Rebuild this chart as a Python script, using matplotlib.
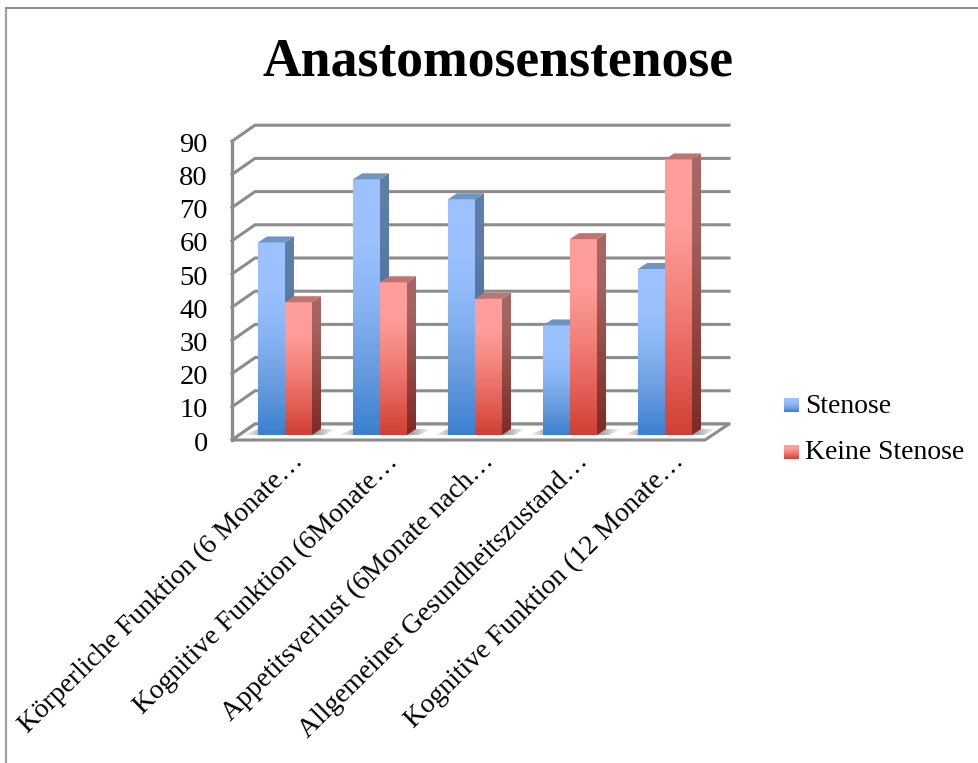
import numpy as np
import matplotlib
matplotlib.use("Agg")
import matplotlib.pyplot as plt
from matplotlib.patches import Polygon
from matplotlib.colors import LinearSegmentedColormap

title = "Anastomosenstenose"
categories = [
    "Körperliche Funktion (6 Monate…",
    "Kognitive Funktion (6Monate…",
    "Appetitsverlust (6Monate nach…",
    "Allgemeiner Gesundheitszustand…",
    "Kognitive Funktion (12 Monate…",
]
stenose = [58, 77, 71, 33, 50]
keine_stenose = [40, 46, 41, 59, 83]
y_ticks = [0, 10, 20, 30, 40, 50, 60, 70, 80, 90]
series_names = ["Stenose", "Keine Stenose"]

plt.rcParams['font.family'] = ['Liberation Serif', 'DejaVu Serif']

# one unit on x is one category step (95 px), one unit on y is one percent (3.32 px)
PX_X = 1 / 95.0
PX_Y = 1 / 3.32
W, H = 979, 763
X0, Y0 = 258, 435  # pixel of the base of the first bar


def xv(px):
    return (px - X0) * PX_X


def yv(py):
    return (Y0 - py) * PX_Y


def gradient_fill(ax, poly, colors, z, horizontal=False):
    xs = [p[0] for p in poly]
    ys = [p[1] for p in poly]
    cmap = LinearSegmentedColormap.from_list("g", colors)
    grad = np.linspace(0, 1, 256).reshape(-1, 1)
    if horizontal:
        grad = grad.T
    im = ax.imshow(grad, extent=(min(xs), max(xs), min(ys), max(ys)), origin="upper",
                   cmap=cmap, aspect="auto", zorder=z, interpolation="bilinear")
    patch = Polygon(poly, closed=True, transform=ax.transData, fc="none", ec="none")
    ax.add_patch(patch)
    im.set_clip_path(patch)


def draw_bar(ax, x, val, w, dx, dy, front, side, top, z):
    left, right = x, x + w
    gradient_fill(ax, [(left, 0), (right, 0), (right, val), (left, val)], front, z)
    gradient_fill(ax, [(right, 0), (right + dx, dy), (right + dx, val + dy), (right, val)], side, z)
    ax.add_patch(Polygon([(left, val), (right, val), (right + dx, val + dy), (left + dx, val + dy)],
                         closed=True, fc=top, ec="none", zorder=z))


fig = plt.figure(figsize=(W / 100, H / 100), dpi=100)
ax = fig.add_axes([0, 0, 1, 1])
ax.set_xlim(xv(0), xv(W))
ax.set_ylim(yv(H), yv(0))
ax.axis("off")

# chart frame, right and bottom edges run off the picture
ax.plot([xv(6), xv(6)], [yv(H + 5), yv(8)], color="#a0a0a0", lw=1.6, zorder=0)
ax.plot([xv(6), xv(W + 5)], [yv(8), yv(8)], color="#8c8c8c", lw=1.4, zorder=0)

# walls and gridlines
grid_c = "#8c8c8c"
fx_l, fx_r = xv(232), xv(705)
bx_l, bx_r = xv(255), xv(729)
y_off = yv(440)
back_off = 16 * PX_Y
for t in y_ticks:
    yf = t + y_off
    ax.plot([fx_l, bx_l, bx_r], [yf, yf + back_off, yf + back_off], color=grid_c, lw=2.2, zorder=1,
            solid_joinstyle="miter")
    ax.text(xv(208), yf - 4 * PX_Y, str(t), ha="right", va="center", fontsize=20.5, color="black")
ax.plot([fx_l, fx_l], [y_off, y_ticks[-1] + y_off], color=grid_c, lw=2.4, zorder=1)
# floor
ax.add_patch(Polygon([(fx_l, y_off), (bx_l, y_off + back_off), (bx_r, y_off + back_off), (fx_r, y_off)],
                     closed=True, fc="white", ec=grid_c, lw=2.2, zorder=1))

bar_w = 27 * PX_X
dx = 9 * PX_X
dy = 6 * PX_Y
blue_front = ["#9cc3ff", "#9ac1fe", "#86b3f2", "#679bde", "#3a80d0"]
blue_side = ["#5f7ea8", "#5d7ca7", "#4f729f", "#3f6496", "#2f5a90"]
red_front = ["#ff9f9c", "#fd9c98", "#f4827a", "#e4625a", "#d03f33"]
red_side = ["#a86664", "#a4625f", "#984f4a", "#8a3c36", "#7f2a24"]
shadow = ["#ffffff", "#a8a8a8", "#a0a0a0", "#a0a0a0", "#a8a8a8", "#ffffff"]

for i in range(len(categories)):
    # soft shadow on the floor
    gradient_fill(ax, [(i - 14 * PX_X, 0), (i + 2 * bar_w + 12 * PX_X, 0),
                       (i + 2 * bar_w + 24 * PX_X, dy), (i, dy)], shadow, 1.5, horizontal=True)
    draw_bar(ax, i, stenose[i], bar_w, dx, dy, blue_front, blue_side, "#7094c2", 2)
    draw_bar(ax, i + bar_w, keine_stenose[i], bar_w, dx, dy, red_front, red_side, "#c07470", 3)
    ax.text(i + 33 * PX_X, yv(449), categories[i], rotation=44.5, rotation_mode="anchor",
            ha="right", va="top", fontsize=19.9, color="black")

ax.text(xv(498.5), yv(62), title, ha="center", va="center", fontsize=38.6, fontweight="bold", color="black")

# legend
leg_y = [405, 451.5]
leg_c = [blue_front, red_front]
for name, py, c in zip(series_names, leg_y, leg_c):
    gradient_fill(ax, [(xv(784), yv(py + 7)), (xv(799), yv(py + 7)), (xv(799), yv(py - 7)), (xv(784), yv(py - 7))], c, 2)
    ax.text(xv(805), yv(py + 1), name, ha="left", va="center", fontsize=19.9, color="black")

ax.set_xlim(xv(0), xv(W))
ax.set_ylim(yv(H), yv(0))
fig.savefig("out.png", dpi=100)
